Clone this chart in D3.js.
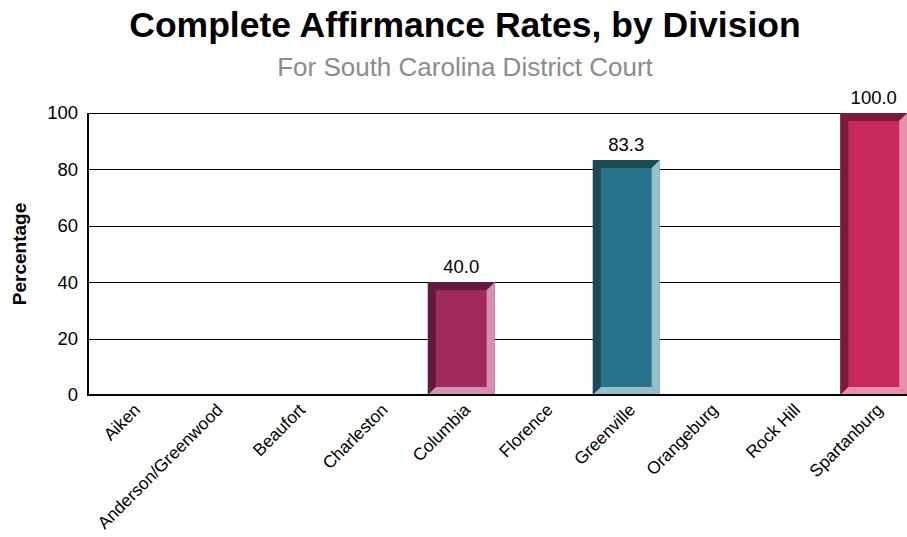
<!DOCTYPE html>
<html>
<head>
<meta charset="utf-8">
<script src="https://cdn.jsdelivr.net/npm/d3@7/dist/d3.min.js"></script>
<style>
html,body{margin:0;padding:0;background:#fff;overflow:hidden;}
text{font-family:"Liberation Sans",Arial,sans-serif;}
</style>
</head>
<body>
<svg id="chart" width="907" height="537"></svg>
<script>
const categories = ["Aiken","Anderson/Greenwood","Beaufort","Charleston","Columbia","Florence","Greenville","Orangeburg","Rock Hill","Spartanburg"];
const values = [null,null,null,null,40.0,null,83.3,null,null,100.0];
const yTicks = [0,20,40,60,80,100];
const faceColors  = {"Columbia":"#a12b5f","Greenville":"#27748a","Spartanburg":"#c9285a"};
const darkColors  = {"Columbia":"#601a3e","Greenville":"#1b4a55","Spartanburg":"#7c1a3c"};
const lightColors = {"Columbia":"#d592b0","Greenville":"#97bfcb","Spartanburg":"#e690ad"};

const svg = d3.select("#chart");
const W = 907, H = 537;
const x0 = 90, x1 = 915, yTop = 113, yBot = 395;

const x = d3.scaleBand().domain(categories).range([x0, x1]).paddingInner(0.19).paddingOuter(0.095);
const y = d3.scaleLinear().domain([0,100]).range([yBot, yTop]);

// title
svg.append("text").attr("x", 465).attr("y", 37).attr("text-anchor","middle")
  .style("font-size","35.5px").style("font-weight","bold").attr("fill","#000")
  .text("Complete Affirmance Rates, by Division");
svg.append("text").attr("x", 465).attr("y", 76).attr("text-anchor","middle")
  .style("font-size","26px").attr("fill","#8c8c8c")
  .text("For South Carolina District Court");

// gridlines
svg.append("g").selectAll("line").data(yTicks.filter(d=>d>0)).join("line")
  .attr("x1", x0-2).attr("x2", W).attr("y1", d=>Math.round(y(d))+0.5).attr("y2", d=>Math.round(y(d))+0.5)
  .attr("stroke","#000").attr("stroke-width",1);

// y axis
const yAxis = d3.axisLeft(y).tickValues(yTicks).tickSize(0).tickPadding(10).tickFormat(d3.format("d"));
const gy = svg.append("g").attr("transform",`translate(${x0-2},0)`).call(yAxis);
gy.select(".domain").remove();
gy.selectAll("text").style("font-size","18.5px").style("font-family","'Liberation Sans',Arial,sans-serif").attr("fill","#000");
svg.append("line").attr("x1", x0-2).attr("x2", x0-2).attr("y1", yTop).attr("y2", yBot)
  .attr("stroke","#000").attr("stroke-width",2);

// y label
svg.append("text").attr("transform",`translate(26,${(yTop+yBot)/2}) rotate(-90)`)
  .attr("text-anchor","middle").style("font-size","19px").style("font-weight","bold")
  .text("Percentage");

// bars
const b = 8;
const barData = categories.map((c,i)=>({c, v: values[i]})).filter(d=>d.v!=null);
const g = svg.append("g");
barData.forEach(d=>{
  const L = x(d.c), R = x(d.c)+x.bandwidth(), T = y(d.v), B = y(0);
  const bg = g.append("g");
  bg.append("rect").attr("x",L).attr("y",T).attr("width",R-L).attr("height",B-T).attr("fill",faceColors[d.c]);
  bg.append("path").attr("d",`M${L},${T}L${L+b},${T+b}L${L+b},${B-b}L${L},${B}Z`).attr("fill",darkColors[d.c]);
  bg.append("path").attr("d",`M${L},${T}L${R},${T}L${R-b},${T+b}L${L+b},${T+b}Z`).attr("fill",darkColors[d.c]);
  bg.append("path").attr("d",`M${R},${T}L${R},${B}L${R-b},${B-b}L${R-b},${T+b}Z`).attr("fill",lightColors[d.c]);
  bg.append("path").attr("d",`M${L},${B}L${R},${B}L${R-b},${B-b}L${L+b},${B-b}Z`).attr("fill",lightColors[d.c]);
  g.append("text").attr("x",(L+R)/2).attr("y",T-9).attr("text-anchor","middle")
    .style("font-size","18.5px").attr("fill","#000").text(d3.format(".1f")(d.v));
});

// x axis line
svg.append("line").attr("x1", x0-3).attr("x2", W).attr("y1", yBot).attr("y2", yBot)
  .attr("stroke","#000").attr("stroke-width",2);

// x labels
svg.append("g").selectAll("text").data(categories).join("text")
  .attr("transform", d=>`translate(${x(d)+x.bandwidth()/2+10},${yBot+16}) rotate(-45)`)
  .attr("text-anchor","end").style("font-size","17.3px").attr("fill","#000")
  .text(d=>d);
</script>
</body>
</html>
